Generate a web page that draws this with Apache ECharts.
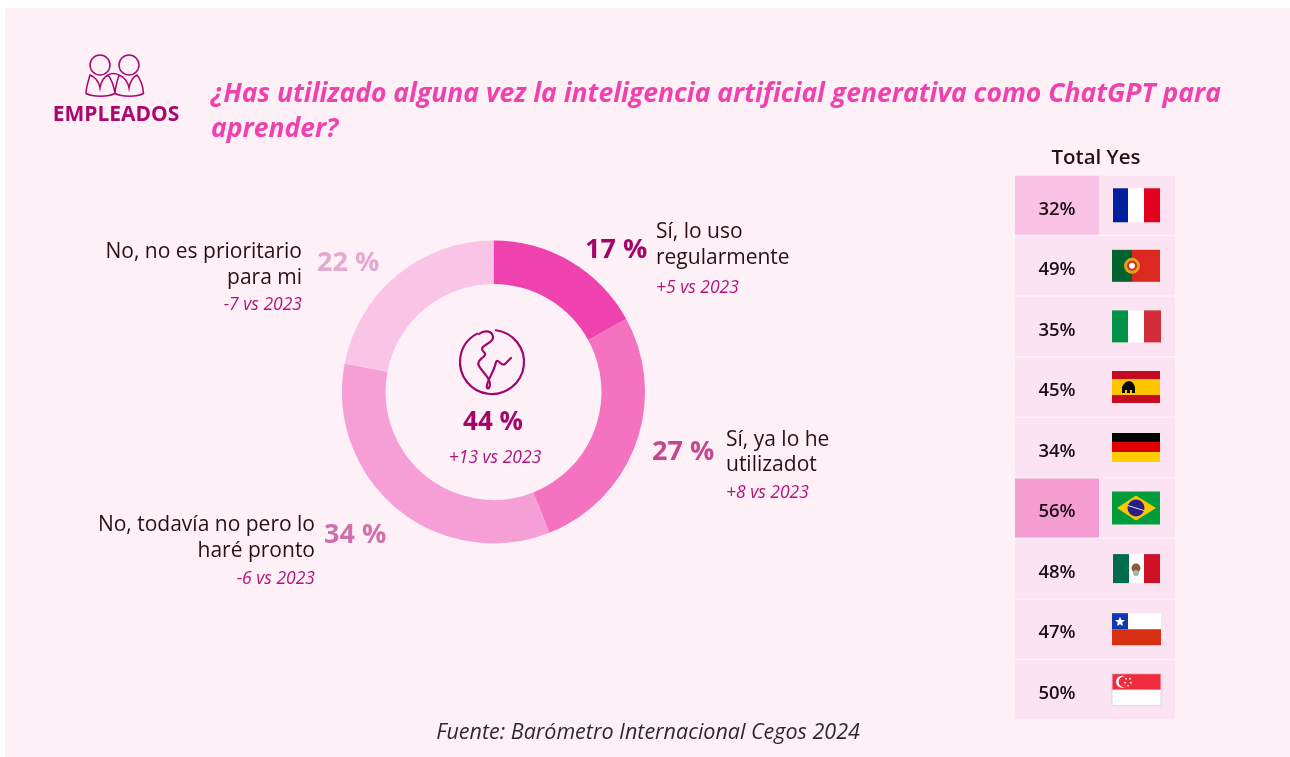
<!DOCTYPE html>
<html>
<head>
<meta charset="utf-8">
<title>Cegos 2024</title>
<script src="https://cdn.jsdelivr.net/npm/echarts@6/dist/echarts.min.js"></script>
<style>
  html, body { margin: 0; padding: 0; background: #fff; }
  #panel { position: absolute; left: 5px; top: 8px; right: 0; bottom: 0; background: #FDF0F7; }
  #main { position: absolute; left: 0; top: 0; width: 1290px; height: 757px; }
</style>
</head>
<body>
<div id="panel"></div>
<div id="main"></div>
<script>
var answers = ['Sí, lo uso regularmente', 'Sí, ya lo he utilizadot', 'No, todavía no pero lo haré pronto', 'No, no es prioritario para mi'];
var shares = [17, 27, 34, 22];
var deltas = ['+5 vs 2023', '+8 vs 2023', '-6 vs 2023', '-7 vs 2023'];
var countries = ['fr', 'pt', 'it', 'es', 'de', 'br', 'mx', 'cl', 'sg'];
var totalYes = [32, 49, 35, 45, 34, 56, 48, 47, 50];

var FONT = '"Open Sans"';
var INK = '#2A0E16';
var PLUM = '#A3066B';
var SUB = '#B5117A';

function rect(x, y, w, h, fill) {
  return { type: 'rect', shape: { x: x, y: y, width: w, height: h }, style: { fill: fill } };
}
function dot(x, y, r, fill) {
  return { type: 'circle', shape: { cx: x, cy: y, r: r }, style: { fill: fill } };
}

// flags are 48 wide, x/y is the top left corner
function flagShapes(code, x, y) {
  switch (code) {
    case 'fr':
      return [rect(x + 1, y - 1, 15, 34, '#00209F'), rect(x + 16, y - 1, 16, 34, '#FFFFFF'), rect(x + 32, y - 1, 16, 34, '#E4001F')];
    case 'pt':
      return [rect(x, y, 20, 32, '#00622F'), rect(x + 20, y, 28, 32, '#DC2820'), dot(x + 20, y + 16, 8, '#D9A51E'), dot(x + 20, y + 16, 5, '#D8262A'), dot(x + 20, y + 16, 3, '#FFFFFF')];
    case 'it':
      return [rect(x, y, 16, 32, '#009246'), rect(x + 16, y, 16, 32, '#FFFFFF'), rect(x + 32, y, 17, 32, '#D22B3A')];
    case 'es':
      return [rect(x, y, 48, 8, '#C60B1E'), rect(x, y + 8, 48, 16, '#FFC400'), rect(x, y + 24, 48, 8, '#C60B1E'),
        { type: 'path', shape: { pathData: 'M' + (x + 10) + ' ' + (y + 22) + 'v-6q3 -6 7 -6t6 6v6h-3v-3h-2v3h-3v-3h-2v3z' }, style: { fill: '#000' } }];
    case 'de':
      return [rect(x, y, 48, 9, '#000000'), rect(x, y + 9, 48, 10, '#E00000'), rect(x, y + 19, 48, 10, '#FFCE00')];
    case 'br':
      return [rect(x, y, 48, 33, '#009B3A'),
        { type: 'polygon', shape: { points: [[x + 5, y + 16.5], [x + 24, y + 4], [x + 44, y + 16.5], [x + 24, y + 29]] }, style: { fill: '#FEC700' } },
        dot(x + 24, y + 16.5, 8.5, '#2B1E85'),
        { type: 'line', shape: { x1: x + 16, y1: y + 14, x2: x + 32, y2: y + 19 }, style: { stroke: '#D8D8E8', lineWidth: 1 } }];
    case 'mx':
      return [rect(x + 1, y, 16, 29, '#006B4B'), rect(x + 17, y, 15, 29, '#FFFFFF'), rect(x + 32, y, 16, 29, '#CE1126'),
        dot(x + 24, y + 14, 4.5, '#8A5A35'), dot(x + 24, y + 19, 3, '#9CB8A0')];
    case 'cl':
      return [rect(x, y, 49, 16, '#FFFFFF'), rect(x, y + 16, 49, 16, '#D62F12'), rect(x, y, 16, 16, '#0D39AE'),
        { type: 'path', shape: { pathData: 'M' + (x + 8) + ' ' + (y + 3.5) + 'l1.4 3.3 3.5 .3-2.7 2.3 .8 3.4-3 -1.8-3 1.8 .8 -3.4-2.7 -2.3 3.5 -.3z' }, style: { fill: '#fff' } }];
    case 'sg':
      return [rect(x, y, 49, 16, '#EF2B3D'), rect(x, y + 16, 49, 16, '#FFFFFF'),
        { type: 'rect', shape: { x: x, y: y, width: 49, height: 32 }, style: { fill: 'none', stroke: '#DDD6DC', lineWidth: 1 } },
        dot(x + 10, y + 8, 6, '#FFFFFF'), dot(x + 12, y + 8, 5.4, '#EF2B3D'),
        dot(x + 14, y + 5, 0.9, '#FFF'), dot(x + 18, y + 5, 0.9, '#FFF'), dot(x + 13, y + 9, 0.9, '#FFF'), dot(x + 19, y + 9, 0.9, '#FFF'), dot(x + 16, y + 12, 0.9, '#FFF')];
  }
  return [];
}
var flagHeight = { fr: 32, pt: 32, it: 32, es: 32, de: 29, br: 33, mx: 29, cl: 32, sg: 32 };

function renderRow(params, api) {
  var i = api.value(1);
  var value = api.value(2);
  var top = api.coord([0, i]);
  var size = api.size([84, 1]);
  var secondW = api.size([76, 0])[0];
  var x = top[0];
  var h = size[1] - 1.5;
  var y = top[1] - h / 2;
  var fill = '#FCE3F2';
  if (value === Math.max.apply(null, totalYes)) fill = '#F59DD3';
  if (value === Math.min.apply(null, totalYes)) fill = '#F9C1E3';
  var code = countries[i];
  var kids = [
    rect(x, y, size[0], h, fill),
    rect(x + size[0], y, secondW, h, '#FCE3F2'),
    { type: 'text', style: { text: value + '%', x: x + 42, y: top[1] + 4, align: 'center', verticalAlign: 'middle',
        font: '600 18.5px ' + FONT, fill: '#1A0F14' } }
  ];
  kids = kids.concat(flagShapes(code, x + 97, top[1] - flagHeight[code] / 2));
  return { type: 'group', silent: true, children: kids };
}

// the two drawn icons, path shapes are only available from a custom series
function renderIcons() {
  var line = { stroke: PLUM, fill: 'none', lineWidth: 2.2, lineCap: 'round' };
  var thin = { stroke: '#A8086F', fill: 'none', lineWidth: 1.5 };
  return { type: 'group', silent: true, children: [
    { type: 'arc', shape: { cx: 492, cy: 362, r: 32, startAngle: -1.45, endAngle: -2.05 }, style: line },
    { type: 'path', shape: { pathData: 'M479,334 C484,330 492,330 493,337 C494,343 481,345 482,349 C483,353 486,352 485,355 C484,358 476,360 479,366 C482,372 491,378 490,385 C489,390 486,389 487,385 C488,379 494,372 496,362 C498,358 501,367 505,364 C507,362 509,360 511,358' }, style: line },
    { type: 'circle', shape: { cx: 100, cy: 65, r: 10 }, style: thin },
    { type: 'circle', shape: { cx: 129, cy: 65, r: 10 }, style: thin },
    { type: 'path', shape: { pathData: 'M90,75 C88,82 86,88 86,93.5 C93,97 108,97 115,93.5 C114,87 112,80 108,75 C104,77 101,82 100,88 C99,82 95,77 90,75 Z M108,75 C111,73 116,73 119,75 M119,75 C117,82 115,88 115,93.5 C122,97 137,97 143.5,93.5 C143,87 141,80 137,75 C133,77 130,82 129,88 C128,82 124,77 119,75 Z' }, style: thin }
  ] };
}

function label(text, x, y, font, fill, align) {
  return { type: 'text', silent: true, style: { text: text, x: x, y: y, font: font, fill: fill, align: align || 'left', verticalAlign: 'middle' } };
}

var big = '700 27px ' + FONT;
var body = '400 21px ' + FONT;
var sub = 'italic 400 17.5px ' + FONT;

// callouts around the donut
var graphics = [
  label(shares[0] + ' %', 585, 250, big, PLUM),
  label('Sí, lo uso', 656, 232, body, INK),
  label('regularmente', 656, 258, body, INK),
  label(deltas[0], 656, 288, sub, SUB),

  label(shares[1] + ' %', 652, 452, big, '#C4478F'),
  label('Sí, ya lo he', 726, 440, body, INK),
  label('utilizadot', 726, 465, body, INK),
  label(deltas[1], 726, 493, sub, SUB),

  label(shares[2] + ' %', 324, 535, big, '#D070AB'),
  label('No, todavía no pero lo', 315, 525, body, INK, 'right'),
  label('haré pronto', 315, 551, body, INK, 'right'),
  label(deltas[2], 315, 579, sub, SUB, 'right'),

  label(shares[3] + ' %', 317, 263, big, '#E5A8CF'),
  label('No, no es prioritario', 302, 252, body, INK, 'right'),
  label('para mi', 302, 278, body, INK, 'right'),
  label(deltas[3], 302, 305, sub, SUB, 'right'),

  label('44 %', 493, 423, '700 26px ' + FONT, PLUM, 'center'),
  label('+13 vs 2023', 495, 458, sub, SUB, 'center'),

  label('Total Yes', 1096, 158, '600 20.5px ' + FONT, INK, 'center'),
  label('EMPLEADOS', 116, 115, '700 21px ' + FONT, '#A8086F', 'center'),
  label('Fuente: Barómetro Internacional Cegos 2024', 648, 733, 'italic 400 21.5px ' + FONT, '#2E2A2C', 'center')
];

var chart = echarts.init(document.getElementById('main'), null, { renderer: 'canvas' });
chart.setOption({
  animation: false,
  backgroundColor: 'transparent',
  title: {
    left: 206, top: 72,
    text: '¿Has utilizado alguna vez la inteligencia artificial generativa como ChatGPT para\naprender?',
    textStyle: { fontFamily: 'Open Sans', fontStyle: 'italic', fontWeight: 700, fontSize: 26.5, lineHeight: 35, color: '#EF42AE' }
  },
  grid: { left: 1015, top: 175, width: 160, height: 545 },
  xAxis: { type: 'value', min: 0, max: 160, show: false },
  yAxis: { type: 'category', inverse: true, data: countries, show: false },
  graphic: graphics,
  series: [
    {
      type: 'pie',
      center: [493.5, 392],
      radius: [108, 151.5],
      startAngle: 90,
      clockwise: true,
      silent: true,
      label: { show: false },
      labelLine: { show: false },
      data: answers.map(function (name, i) {
        return { name: name, value: shares[i], itemStyle: { color: ['#EF42AE', '#F472BF', '#F69FD6', '#F9C4E6'][i] } };
      })
    },
    {
      type: 'custom',
      silent: true,
      clip: false,
      renderItem: renderRow,
      encode: { x: 0, y: 1 },
      data: totalYes.map(function (v, i) { return [0, i, v]; })
    },
    {
      type: 'custom',
      silent: true,
      clip: false,
      renderItem: renderIcons,
      encode: { x: 0, y: 1 },
      data: [[0, 0]]
    }
  ]
});
</script>
</body>
</html>
